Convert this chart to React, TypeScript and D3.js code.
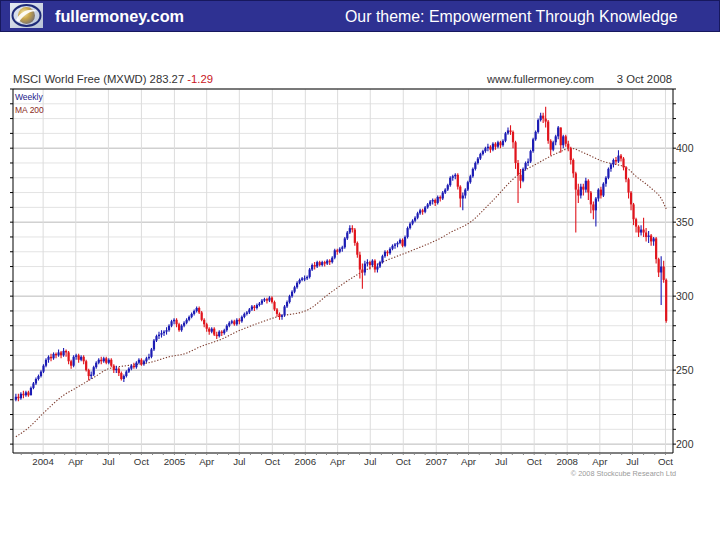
import React from "react";
import * as d3 from "d3";

// ---- data (weekly bars, Friday closes, starting 17 Oct 2003) ----
const WEEK_START = new Date(2003, 9, 17);
const FIRST_OPEN = 230;

const closes = [
  232,231,234,233,235,233,238,241,244,246,
  249,253,257,259,258,261,260,262,260,263,
  262,256,253,259,260,257,259,256,250,246,
  247,252,255,257,256,258,255,257,253,250,
  251,248,244,246,249,251,253,252,255,257,
  254,256,258,259,264,270,273,274,275,276,
  277,280,283,284,281,277,280,282,284,286,
  288,290,292,289,284,281,278,276,278,274,
  273,276,275,277,280,282,283,281,284,283,
  286,288,289,291,293,292,294,295,297,298,
  297,299,296,291,288,286,287,293,296,300,
  303,306,309,311,312,312,313,318,321,320,
  323,321,323,322,324,323,326,331,330,332,
  333,339,343,346,345,336,328,318,316,322,
  323,321,324,318,320,323,327,330,329,332,
  334,335,336,338,334,340,346,349,351,353,
  356,358,357,360,362,364,365,363,367,366,
  370,372,375,380,381,382,374,366,368,372,
  377,381,386,390,393,396,398,400,401,399,
  403,401,404,402,405,410,412,411,404,390,
  382,378,386,390,391,398,406,411,419,422,
  420,418,405,399,404,408,414,402,408,403,
  400,392,383,372,368,374,372,378,370,362,
  358,366,372,368,376,380,386,389,392,391,
  395,393,387,379,370,362,352,347,343,345,
  343,340,341,337,339,325,316,320,311,283.27,
];

const highs = [
  234,234,235,236,236,236,239,242,245,247,
  250,254,258,260,261,262,262,264,263,265,
  264,263,257,260,261,261,260,260,257,251,
  249,253,256,258,259,259,259,258,258,254,
  253,252,249,247,250,252,254,255,256,258,
  258,257,259,261,265,271,274,276,277,277,
  279,281,284,285,285,282,281,283,285,287,
  289,291,293,293,290,285,282,279,279,279,
  276,277,277,278,281,283,284,284,285,285,
  287,289,290,292,294,294,295,296,298,299,
  299,300,300,297,292,289,288,294,297,301,
  304,307,310,312,313,314,314,319,322,323,
  324,324,324,324,325,325,327,332,332,333,
  334,340,344,348,348,346,337,330,322,324,
  325,324,325,325,322,324,328,331,331,333,
  335,336,337,339,339,341,347,350,352,354,
  357,359,359,361,363,365,366,366,368,368,
  371,373,376,381,382,383,383,375,370,373,
  378,382,387,391,394,397,399,401,403,402,
  404,404,405,405,406,411,414,415.5,412,405,
  392,386,387,391,393,399,407,412,420,424,
  424,428,419,406,405,409,415,414,409,409,
  405,401,393,384,376,376,376,380,379,371,
  364,367,373,374,377,381,387,390,393,394,
  398.6,396,394,388,380,371,363,353,348,348,
  353,346,344,342,340,340,326,327,324,312,
];

const lows = [
  229,229,230,231,232,232,233,237,240,243,
  245,248,252,255,256,257,258,259,258,259,
  259,254,251,252,257,255,256,254,249,243,
  244,246,251,254,254,255,254,254,252,248,
  248,246,243,242,245,248,250,251,251,254,
  253,253,255,257,258,263,269,271,272,273,
  274,276,279,281,279,276,276,279,281,283,
  285,287,289,288,283,279,276,274,275,273,
  271,272,273,274,276,279,281,280,280,281,
  282,285,287,288,290,290,291,293,294,296,
  295,296,295,290,286,284,284,286,292,295,
  299,302,305,308,310,310,311,312,317,318,
  319,320,320,320,321,321,322,325,328,329,
  330,332,338,342,343,334,326,312,305,314,
  320,318,320,316,316,319,322,326,327,328,
  331,332,333,335,333,333,339,345,348,350,
  352,355,355,356,359,361,362,361,362,364,
  365,369,371,374,378,379,372,360,358,366,
  371,376,380,385,389,392,395,397,398,397,
  398,399,400,400,401,404,409,409,400,386,
  363,373,377,385,388,390,397,405,410,418,
  417,414,403,395,398,402,406,397,400,401,
  398,389,380,343,363,366,368,370,365,356,
  352,347,364,366,367,374,379,384,387,389,
  390,391,385,377,366,358,348,343,340,341,
  340,337,336,334,334,322,313,294,309,282,
];

// moving average, read at selected weeks (week index from WEEK_START)
const maWeeks = [0,5,11,19,24,31,37,44,53,61,68,73,82,88,97,104,116,125,137,146,158,170,173,181,189,200,208,216,221,226,234,239,243,247,253,257,259];
const maValues = [205,211,221,233,238,245,251,253,255,259,261.5,265.5,271,276,282,286,290.5,302,315.5,323,331,340,343,350,363,382,390,397,400,397,391,389,387,381,373,366,359];

const yTickValues = [200, 250, 300, 350, 400];
const xTickLabels = ["2004","Apr","Jul","Oct","2005","Apr","Jul","Oct","2006","Apr","Jul","Oct","2007","Apr","Jul","Oct","2008","Apr","Jul","Oct"];

const TITLE = "MSCI World Free (MXWD) 283.27";
const CHANGE = "-1.29";

const FONT = "'Liberation Sans', Arial, Helvetica, sans-serif";
const BLUE = "#1c1cb4";
const RED = "#e0141c";

export default function App() {
  const left = 13, right = 673, top = 89, bottom = 453;
  const x = d3.scaleTime().domain([new Date(2003, 9, 9), new Date(2008, 9, 22)]).range([left, right]);
  const y = d3.scaleLinear().domain([194, 440]).range([bottom, top]);
  const weekDate = (i: number) => d3.timeDay.offset(WEEK_START, 7 * i);

  const gridVals = d3.range(200, 441, 10);
  const quarterDates = d3.timeMonth.every(3)!.range(new Date(2004, 0, 1), new Date(2008, 10, 1));
  const monthDates = d3.timeMonth.range(new Date(2003, 10, 1), new Date(2008, 10, 1));

  const maLine = d3.line<number>()
    .x((_, k) => x(weekDate(maWeeks[k])))
    .y((v) => y(v))
    .curve(d3.curveMonotoneX);

  const bars = closes.map((c, i) => {
    const o = i === 0 ? FIRST_OPEN : closes[i - 1];
    const up = c >= o;
    const cx = x(weekDate(i));
    const yTop = y(Math.max(o, c));
    const yBot = y(Math.min(o, c));
    const hi = y(Math.max(highs[i], o, c));
    const lo = y(Math.min(lows[i], o, c));
    const col = up ? BLUE : RED;
    return (
      <g key={i}>
        <line x1={cx} x2={cx} y1={hi} y2={lo} stroke={col} strokeWidth={1.1} />
        <rect x={cx - 1.1} y={yTop} width={2.2} height={Math.max(1, yBot - yTop)} fill={col} />
      </g>
    );
  });

  return (
    <svg width={720} height={540} style={{ position: "absolute", left: 0, top: 0, background: "#fff" }} fontFamily={FONT}>
      <rect x={0} y={0} width={720} height={540} fill="#fff" />
      {/* banner */}
      <rect x={0.5} y={0.5} width={719} height={31} fill="#2e3192" stroke="#17185e" strokeWidth={1} />
      <defs>
        <radialGradient id="sph" cx="0.35" cy="0.35" r="0.75">
          <stop offset="0" stopColor="#f4e7a8" />
          <stop offset="0.45" stopColor="#c9a64a" />
          <stop offset="1" stopColor="#6e6a72" />
        </radialGradient>
        <linearGradient id="lbg" x1="0" y1="0" x2="1" y2="1">
          <stop offset="0" stopColor="#e6ebf3" />
          <stop offset="1" stopColor="#b8c2d6" />
        </linearGradient>
      </defs>
      <rect x={10} y={3} width={33} height={25} fill="url(#lbg)" />
      <ellipse cx={26.5} cy={15.5} rx={14} ry={10.5} fill="none" stroke="#1e2a78" strokeWidth={2} />
      <circle cx={26.5} cy={15.5} r={8.5} fill="url(#sph)" />
      <path d="M16,20 C21,10 31,8 37,11 C31,11 24,14 19,22 Z" fill="#ffffff" opacity={0.9} />
      <text x={55} y={22} fill="#fff" fontSize={16.3} fontWeight="bold">fullermoney.com</text>
      <text x={345} y={22} fill="#fff" fontSize={15.9}>Our theme: Empowerment Through Knowledge</text>

      {/* title row */}
      <text x={13} y={83} fontSize={11.3} fill="#333">
        {TITLE} <tspan fill="#c8141c">{CHANGE}</tspan>
      </text>
      <text x={487} y={83} fontSize={11.1} fill="#333">www.fullermoney.com</text>
      <text x={672} y={83} fontSize={11.3} fill="#333" textAnchor="end">3 Oct 2008</text>

      {/* grid */}
      {gridVals.map((v) => (
        <line key={"h" + v} x1={left} x2={right} y1={y(v)} y2={y(v)}
          stroke={v % 50 === 0 ? "#b9b9b9" : "#e3e3e3"} strokeWidth={1} />
      ))}
      {quarterDates.map((d, k) => (
        <line key={"v" + k} x1={x(d)} x2={x(d)} y1={top} y2={bottom} stroke="#dcdcdc" strokeWidth={1} />
      ))}

      {/* moving average */}
      <path d={maLine(maValues) || ""} fill="none" stroke="#7c3a2c" strokeWidth={1.1} strokeDasharray="1.3 1.7" />

      {/* bars */}
      {bars}

      {/* frame & axes */}
      <line x1={left} x2={right} y1={top} y2={top} stroke="#000" strokeWidth={1} />
      <line x1={left} x2={left} y1={top} y2={bottom} stroke="#000" strokeWidth={1} />
      <line x1={right} x2={right} y1={top} y2={bottom} stroke="#000" strokeWidth={1} />
      <line x1={left} x2={right} y1={bottom} y2={bottom} stroke="#000" strokeWidth={1} />
      {gridVals.map((v) => (
        <g key={"t" + v}>
          <line x1={left - 3} x2={left} y1={y(v)} y2={y(v)} stroke="#000" />
          <line x1={right} x2={right + 3} y1={y(v)} y2={y(v)} stroke="#000" />
        </g>
      ))}
      {monthDates.map((d, k) => (
        <line key={"m" + k} x1={x(d)} x2={x(d)} y1={bottom} y2={bottom + 2} stroke="#888" />
      ))}
      {yTickValues.map((v) => (
        <text key={"yl" + v} x={676} y={y(v) + 3.8} fontSize={10.5} fill="#333">{v}</text>
      ))}
      {quarterDates.map((d, k) => (
        <text key={"xl" + k} x={x(d)} y={465} fontSize={9.7} fill="#333" textAnchor="middle">{xTickLabels[k]}</text>
      ))}

      {/* legend */}
      <text x={15} y={100} fontSize={8.5} fill="#1a1a8a">Weekly</text>
      <text x={15} y={113} fontSize={8.5} fill="#8b2a22">MA 200</text>

      <text x={676} y={476} fontSize={7.3} fill="#9a9a9a" textAnchor="end">© 2008 Stockcube Research Ltd</text>
    </svg>
  );
}
